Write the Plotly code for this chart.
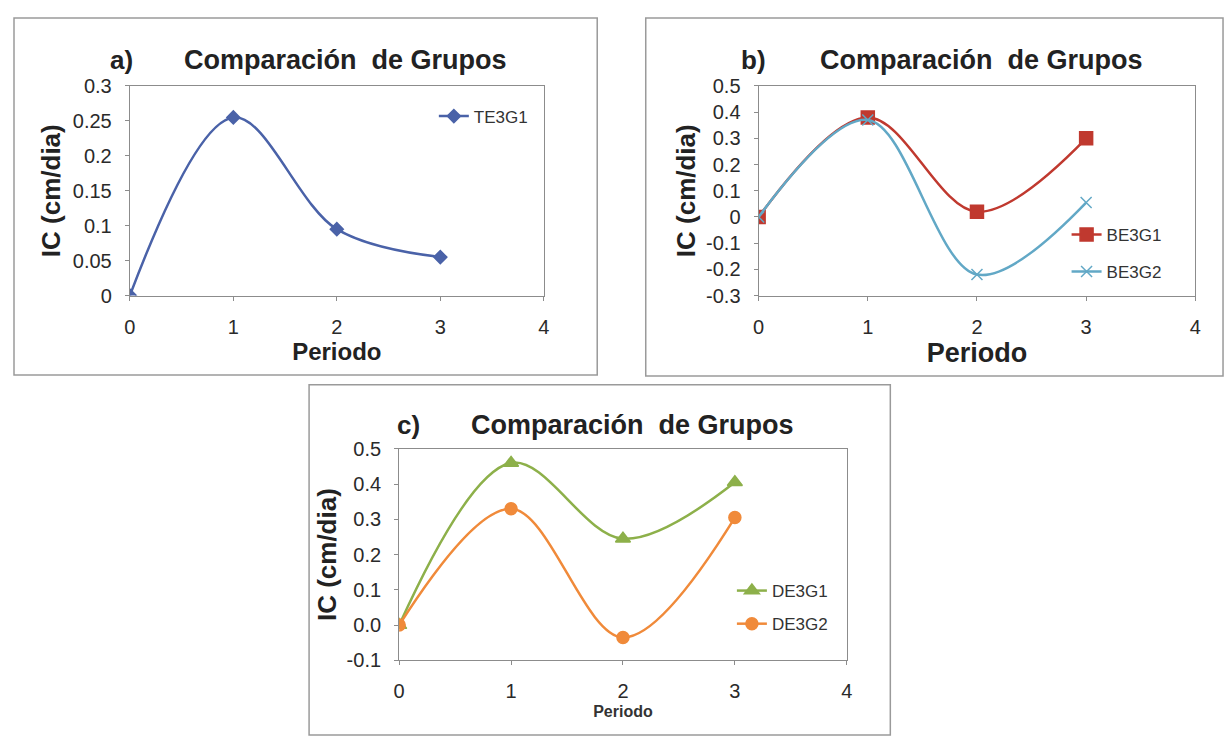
import plotly.graph_objects as go

# Page body has an 8px margin; the figure is sized to fill the rest of the window.
OFF = 8
W, H = 1232 - OFF, 748 - OFF

periods = [0, 1, 2, 3]
te3g1 = [0.0, 0.255, 0.095, 0.055]
be3g1 = [0.0, 0.38, 0.02, 0.30]
be3g2 = [0.0, 0.37, -0.22, 0.055]
de3g1 = [0.0, 0.46, 0.245, 0.405]
de3g2 = [0.0, 0.33, -0.035, 0.305]

xticks = [0, 1, 2, 3, 4]
yticks_a = [0, 0.05, 0.1, 0.15, 0.2, 0.25, 0.3]
yticks_b = [-0.3, -0.2, -0.1, 0, 0.1, 0.2, 0.3, 0.4, 0.5]
ylabels_b = ["-0.3", "-0.2", "-0.1", "0", "0.1", "0.2", "0.3", "0.4", "0.5"]
yticks_c = [-0.1, 0.0, 0.1, 0.2, 0.3, 0.4, 0.5]
ylabels_c = ["-0.1", "0.0", "0.1", "0.2", "0.3", "0.4", "0.5"]

title_text = "Comparación  de Grupos"

FONT = "Liberation Sans Narrow, Arial Narrow, Liberation Sans, Arial, sans-serif"
BFONT = "Liberation Sans, Arial, sans-serif"

def px(x):
    return (x - OFF) / W

def py(y):
    return 1 - (y - OFF) / H

fig = go.Figure()

def add(x, y, name, color, symbol, msize, xa, ya, legend, group):
    fig.add_trace(go.Scatter(
        x=x, y=y, name=name, mode="lines+markers",
        line=dict(color=color, width=2.5, shape="spline", smoothing=1.0),
        marker=dict(symbol=symbol, size=msize, color=color,
                    line=dict(color=color, width=1.5)),
        xaxis=xa, yaxis=ya, legend=legend, legendgroup=group,
    ))

add(periods, te3g1, "TE3G1", "#4a62a8", "diamond", 10, "x", "y", "legend", "a1")
add(periods, be3g1, "BE3G1", "#c0392f", "square", 13, "x2", "y2", "legend2", "b1")
add(periods, be3g2, "BE3G2", "#62a8c6", "x-thin", 11, "x2", "y2", "legend2", "b2")
add(periods, de3g1, "DE3G1", "#8db04a", "triangle-up", 13, "x3", "y3", "legend3", "c1")
add(periods, de3g2, "DE3G2", "#f08a3a", "circle", 12, "x3", "y3", "legend3", "c2")

axis_common = dict(
    showline=True, mirror=True, linecolor="#8c8c8c", linewidth=1.2,
    showgrid=False, zeroline=False, ticks="outside", ticklen=4,
    tickcolor="#8c8c8c", tickfont=dict(family=FONT, size=20, color="#2a2a2a"),
    ticklabelstandoff=9,
)

fig.update_layout(
    width=W, height=H,
    margin=dict(l=0, r=0, t=0, b=0),
    paper_bgcolor="white", plot_bgcolor="white",
    xaxis=dict(domain=[px(125), px(543)], range=[0, 4], tickvals=xticks, anchor="y",
               title=dict(text="<b>Periodo</b>", font=dict(family=BFONT, size=24, color="#222"), standoff=4),
               **axis_common),
    yaxis=dict(domain=[py(293), py(77)], range=[0, 0.3], tickvals=yticks_a, anchor="x",
               title=dict(text="<b>IC (cm/dia)</b>", font=dict(family=BFONT, size=26, color="#222"), standoff=4),
               **axis_common),
    xaxis2=dict(domain=[px(760), px(1201)], range=[0, 4], tickvals=xticks, anchor="y2",
                title=dict(text="<b>Periodo</b>", font=dict(family=BFONT, size=27, color="#222"), standoff=2),
                **axis_common),
    yaxis2=dict(domain=[py(293), py(77)], range=[-0.3, 0.5], tickvals=yticks_b, ticktext=ylabels_b, anchor="x2",
                title=dict(text="<b>IC (cm/dia)</b>", font=dict(family=BFONT, size=26, color="#222"), standoff=2),
                **axis_common),
    xaxis3=dict(domain=[px(397), px(849)], range=[0, 4], tickvals=xticks, anchor="y3",
                title=dict(text="<b>Periodo</b>", font=dict(family=FONT, size=16, color="#333"), standoff=4),
                **axis_common),
    yaxis3=dict(domain=[py(669), py(451)], range=[-0.1, 0.5], tickvals=yticks_c, ticktext=ylabels_c, anchor="x3",
                title=dict(text="<b>IC (cm/dia)</b>", font=dict(family=BFONT, size=26, color="#222"), standoff=2),
                **axis_common),
    legend=dict(x=px(432), y=py(90), xanchor="left", yanchor="top",
                bgcolor="rgba(0,0,0,0)", font=dict(family=FONT, size=17, color="#333")),
    legend2=dict(x=px(1071), y=py(212), xanchor="left", yanchor="top", tracegroupgap=12,
                 bgcolor="rgba(0,0,0,0)", font=dict(family=FONT, size=17, color="#333")),
    legend3=dict(x=px(733), y=py(579), xanchor="left", yanchor="top", tracegroupgap=8,
                 bgcolor="rgba(0,0,0,0)", font=dict(family=FONT, size=17, color="#333")),
    showlegend=True,
)

# Outer chart frames
frames = [(8, 7, 597, 375), (646, 7, 1229, 376), (306, 385, 893, 746)]
for x0, y0, x1, y1 in frames:
    fig.add_shape(type="rect", xref="paper", yref="paper",
                  x0=px(x0), y0=py(y1), x1=px(x1), y1=py(y0),
                  line=dict(color="#9a9a9a", width=1.5), layer="below")

# Titles
titles = [("a)", 117, 50, 343, 50), ("b)", 755, 50, 985, 50), ("c)", 406, 426, 633, 426)]
for lab, lx, ly, tx, ty in titles:
    fig.add_annotation(x=px(lx), y=py(ly), xref="paper", yref="paper", text="<b>" + lab + "</b>",
                       showarrow=False, font=dict(family=BFONT, size=26, color="#222"),
                       xanchor="center", yanchor="middle")
    fig.add_annotation(x=px(tx), y=py(ty), xref="paper", yref="paper", text="<b>" + title_text + "</b>",
                       showarrow=False, font=dict(family=BFONT, size=27, color="#222"),
                       xanchor="center", yanchor="middle")

fig.write_html("out.html")
